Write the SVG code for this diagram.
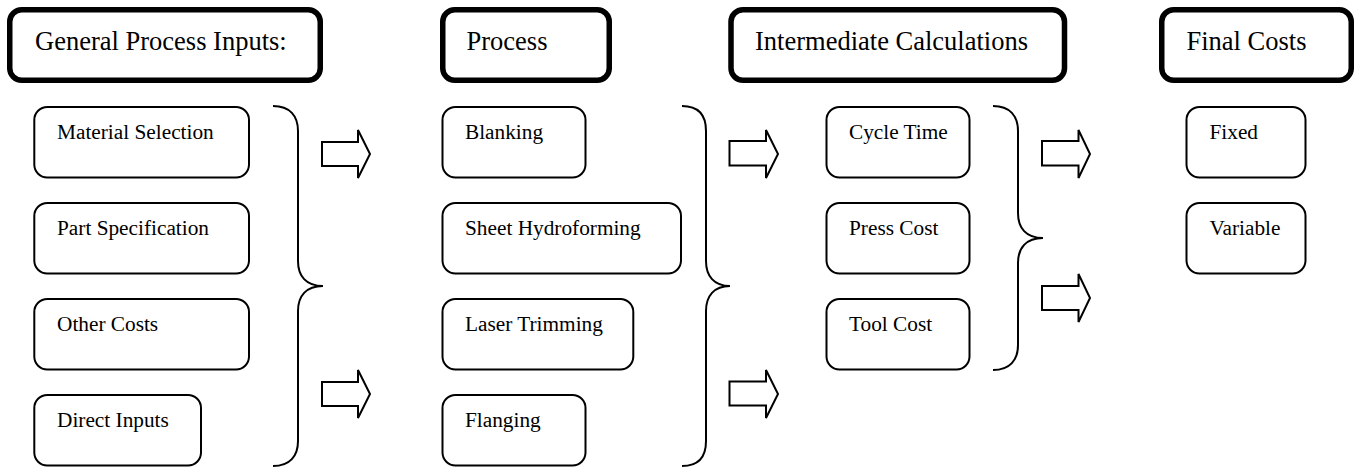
<svg xmlns="http://www.w3.org/2000/svg" width="1357" height="469" viewBox="0 0 1357 469">
<style>
.hdr{fill:#fff;stroke:#000;stroke-width:5.5}
.box{fill:#fff;stroke:#000;stroke-width:2}
.ht{font-family:"Liberation Serif","Times New Roman",serif;font-size:26.5px;fill:#000}
.bt{font-family:"Liberation Serif","Times New Roman",serif;font-size:21.3px;fill:#000}
.brace{fill:none;stroke:#000;stroke-width:2}
.arr{fill:#fff;stroke:#000;stroke-width:2;stroke-linejoin:miter}
</style>
<rect width="1357" height="469" fill="#fff"/>
<g id="hdr-inputs"><rect class="hdr" x="9.75" y="9.75" width="310.5" height="70.5" rx="12"/><text class="ht" x="35" y="50">General Process Inputs:</text></g>
<g id="hdr-process"><rect class="hdr" x="442.75" y="9.75" width="166.5" height="70.5" rx="12"/><text class="ht" x="466.5" y="50">Process</text></g>
<g id="hdr-intermediate"><rect class="hdr" x="731" y="9.75" width="333.5" height="70.5" rx="12"/><text class="ht" x="755" y="50">Intermediate Calculations</text></g>
<g id="hdr-final"><rect class="hdr" x="1161.75" y="9.75" width="189.5" height="70.5" rx="12"/><text class="ht" x="1186.5" y="50">Final Costs</text></g>

<g id="material-selection"><rect class="box" x="34.3" y="107" width="214.7" height="70.5" rx="13"/><text class="bt" x="57" y="139">Material Selection</text></g>
<g id="part-specification"><rect class="box" x="34.3" y="203" width="214.7" height="70.5" rx="13"/><text class="bt" x="57" y="235">Part Specification</text></g>
<g id="other-costs"><rect class="box" x="34.3" y="299" width="214.7" height="70.5" rx="13"/><text class="bt" x="57" y="331">Other Costs</text></g>
<g id="direct-inputs"><rect class="box" x="34.3" y="395" width="166.7" height="70.5" rx="13"/><text class="bt" x="57" y="427">Direct Inputs</text></g>

<g id="blanking"><rect class="box" x="442.5" y="107" width="143" height="70.5" rx="13"/><text class="bt" x="465" y="139">Blanking</text></g>
<g id="sheet-hydroforming"><rect class="box" x="442.5" y="203" width="238.5" height="70.5" rx="13"/><text class="bt" x="465" y="235">Sheet Hydroforming</text></g>
<g id="laser-trimming"><rect class="box" x="442.5" y="299" width="190.8" height="70.5" rx="13"/><text class="bt" x="465" y="331">Laser Trimming</text></g>
<g id="flanging"><rect class="box" x="442.5" y="395" width="143" height="70.5" rx="13"/><text class="bt" x="465" y="427">Flanging</text></g>

<g id="cycle-time"><rect class="box" x="826.5" y="107" width="143" height="70.5" rx="13"/><text class="bt" x="849" y="139">Cycle Time</text></g>
<g id="press-cost"><rect class="box" x="826.5" y="203" width="143" height="70.5" rx="13"/><text class="bt" x="849" y="235">Press Cost</text></g>
<g id="tool-cost"><rect class="box" x="826.5" y="299" width="143" height="70.5" rx="13"/><text class="bt" x="849" y="331">Tool Cost</text></g>

<g id="fixed"><rect class="box" x="1186.5" y="107" width="119" height="70.5" rx="13"/><text class="bt" x="1209.5" y="139">Fixed</text></g>
<g id="variable"><rect class="box" x="1186.5" y="203" width="119" height="70.5" rx="13"/><text class="bt" x="1209.5" y="235">Variable</text></g>

<g id="connectors">
<path class="brace" d="M273,106 C290,106 298,116 298,131 L298,261 C298,276 306,286 323,286 C306,286 298,296 298,311 L298,441 C298,456 290,466 273,466"/>
<path class="brace" d="M682,106 C699,106 706,116 706,131 L706,261 C706,276 714,286 730,286 C714,286 706,296 706,311 L706,441 C706,456 699,466 682,466"/>
<path class="brace" d="M993,106 C1010,106 1018,116 1018,131 L1018,213 C1018,228 1026,238 1043,238 C1026,238 1018,248 1018,263 L1018,345 C1018,360 1010,370 993,370"/>
<polygon class="arr" points="322,142 358,142 358,130 370,154 358,178 358,166 322,166"/>
<polygon class="arr" points="322,382 358,382 358,370 370,394 358,418 358,406 322,406"/>
<polygon class="arr" points="729.5,141 766,141 766,130 778,154 766,178 766,165.5 729.5,165.5"/>
<polygon class="arr" points="729.5,381.5 766,381.5 766,370 778,394 766,418 766,405.5 729.5,405.5"/>
<polygon class="arr" points="1042,141 1078.5,141 1078.5,130 1090,154 1078.5,178 1078.5,165.5 1042,165.5"/>
<polygon class="arr" points="1042,286 1078.5,286 1078.5,274 1090,298 1078.5,322 1078.5,310 1042,310"/>
</g>
</svg>
